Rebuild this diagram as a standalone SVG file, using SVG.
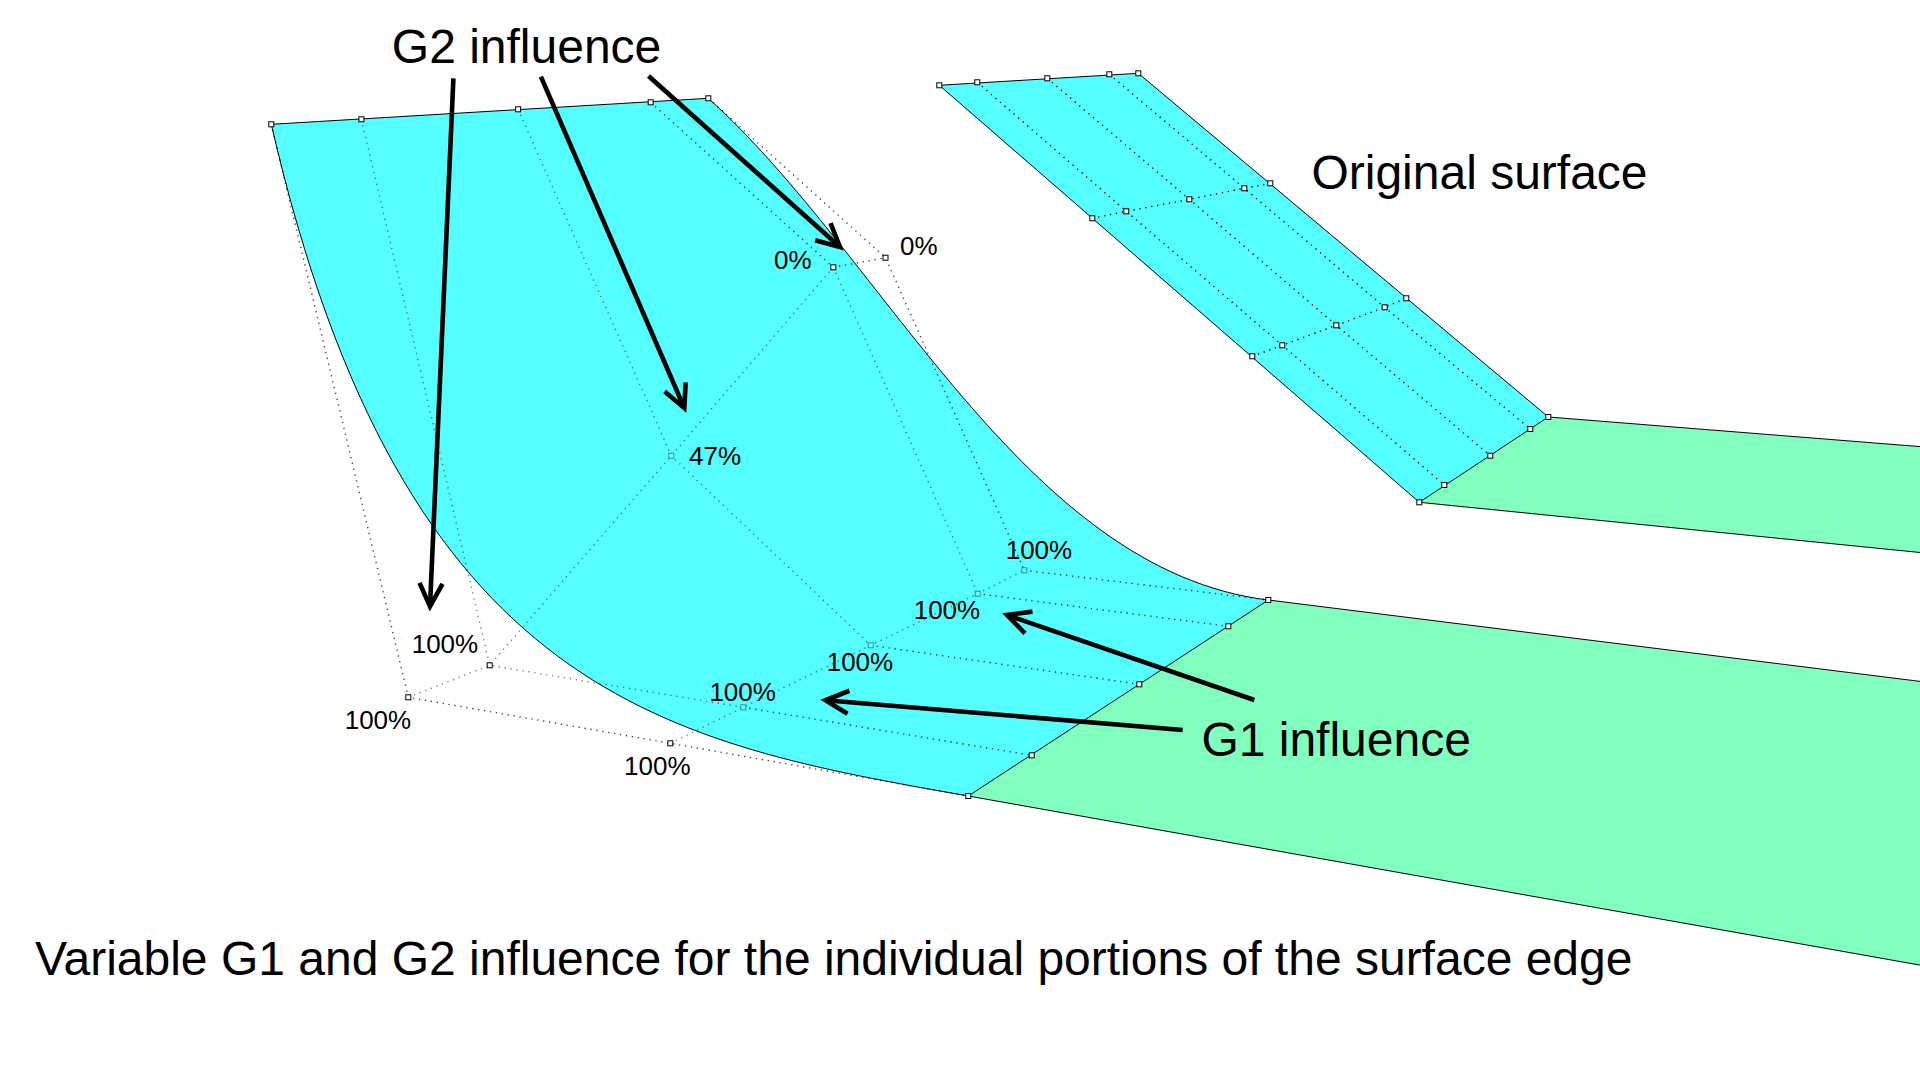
<svg xmlns="http://www.w3.org/2000/svg" width="1920" height="1080" viewBox="0 0 1920 1080">
<style>
text{font-family:"Liberation Sans",Arial,sans-serif;fill:#000}
.big{font-size:48px}
.pct{font-size:26px}
.blue{fill:#55ffff;stroke:#000;stroke-width:1}
.green{fill:#80ffbf;stroke:none}
.edge{fill:none;stroke:#000;stroke-width:1}
.dot{fill:none;stroke:#000;stroke-width:1.4;stroke-dasharray:1.3 4.7}
.soft{stroke-opacity:.5}
.mid{stroke-opacity:.75}
.pt{fill:#fff;stroke:#000;stroke-width:1}
.tp{fill:#7fffff;stroke:#119999;stroke-width:1}
.arrow{fill:none;stroke:#000;stroke-width:4.6;marker-end:url(#head)}
</style>
<defs>
<marker id="head" markerUnits="userSpaceOnUse" viewBox="-30 -16 40 32" markerWidth="40" markerHeight="32" refX="0" refY="0" orient="auto" overflow="visible">
<path d="M-23,-11.5 L0,0 L-23,11.5" fill="none" stroke="#000" stroke-width="4.6" stroke-miterlimit="10"/>
</marker>
<rect id="p" x="-2.5" y="-2.5" width="5" height="5"/>
</defs>
<rect width="1920" height="1080" fill="#fff"/>

<g id="original-surface">
<path class="green" d="M1548.3,417 L1925,447 L1925,553 L1419.3,502.3Z"/>
<path class="edge" d="M1548.3,417 L1925,447 M1419.3,502.3 L1925,553"/>
<path class="blue" d="M939.3,85.3 L1138.3,73.3 L1548.3,417 L1419.3,502.3Z"/>
<path class="dot" d="M977.3,82.3 L1126.3,211.3 L1282.3,345.3 L1444.3,485 M1047.3,78.3 L1189.3,199.3 L1336.3,325.3 L1490.3,455.7 M1109.3,74.3 L1244.3,188.3 L1384.7,307.3 L1530.3,429 M1092.3,218.3 L1126.3,211.3 L1189.3,199.3 L1244.3,188.3 L1270.3,183.3 M1252.3,356.3 L1282.3,345.3 L1336.3,325.3 L1384.7,307.3 L1406.3,298.3"/>
<g class="pt">
<use href="#p" x="939.3" y="85.3"/><use href="#p" x="977.3" y="82.3"/><use href="#p" x="1047.3" y="78.3"/><use href="#p" x="1109.3" y="74.3"/><use href="#p" x="1138.3" y="73.3"/>
<use href="#p" x="1092.3" y="218.3"/><use href="#p" x="1126.3" y="211.3"/><use href="#p" x="1189.3" y="199.3"/><use href="#p" x="1244.3" y="188.3"/><use href="#p" x="1270.3" y="183.3"/>
<use href="#p" x="1252.3" y="356.3"/><use href="#p" x="1282.3" y="345.3"/><use href="#p" x="1336.3" y="325.3"/><use href="#p" x="1384.7" y="307.3"/><use href="#p" x="1406.3" y="298.3"/>
<use href="#p" x="1419.3" y="502.3"/><use href="#p" x="1444.3" y="485"/><use href="#p" x="1490.3" y="455.7"/><use href="#p" x="1530.3" y="429"/><use href="#p" x="1548.3" y="417"/>
</g>
</g>

<g id="blended-surface">
<path class="green" d="M1268.3,600 L1925,682 L1925,966 L968.3,796Z"/>
<path class="edge" d="M1268.3,600 L1925,682 M968.3,796 L1925,966"/>
<path class="blue" d="M271.3,124.3 L708.3,98.3 C885.5,257.7 1024.3,570.3 1268.3,600 L968.3,796 C670.3,743.3 404,700 271.3,124.3Z"/>
<path class="dot mid" d="M271.3,124.3 L408.3,697.3 L670.3,743.3 L968.3,796 M708.3,98.3 L885.5,257.7 L1024.3,570.3"/>
<path class="dot soft" d="M361.4,119.3 L489.7,665.3 L743.3,707.3 M518.1,109.3 L671.3,455.7 L870.7,645.3 M833.3,267.3 L977.7,593.7 M408.3,697.3 L489.7,665.3 L671.3,455.7 L833.3,267.3 M670.3,743.3 L743.3,707.3 L870.7,645.3 L977.7,593.7 L1024.3,570.3"/>
<path class="dot mid" d="M650.7,102.3 L833.3,267.3 L885.5,257.7 M743.3,707.3 L1031.7,755.3 M870.7,645.3 L1139.3,684.3 M977.7,593.7 L1228.3,626.3 M1024.3,570.3 L1268.3,600"/>
<g class="pt">
<use href="#p" x="271.3" y="124.3"/><use href="#p" x="361.4" y="119.3"/><use href="#p" x="518.1" y="109.3"/><use href="#p" x="650.7" y="102.3"/><use href="#p" x="708.3" y="98.3"/>
<use href="#p" x="408.3" y="697.3"/><use href="#p" x="489.7" y="665.3"/><use href="#p" x="833.3" y="267.3"/><use href="#p" x="885.5" y="257.7"/>
<use href="#p" x="670.3" y="743.3"/>
<use href="#p" x="968.3" y="796"/><use href="#p" x="1031.7" y="755.3"/><use href="#p" x="1139.3" y="684.3"/><use href="#p" x="1228.3" y="626.3"/><use href="#p" x="1268.3" y="600"/>
</g>
<g class="tp">
<use href="#p" x="671.3" y="455.7"/><use href="#p" x="743.3" y="707.3"/><use href="#p" x="870.7" y="645.3"/><use href="#p" x="977.7" y="593.7"/><use href="#p" x="1024.3" y="570.3"/>
</g>
</g>

<g id="percent-labels">
<text class="pct" x="774" y="269.3">0%</text>
<text class="pct" x="900" y="255.3">0%</text>
<text class="pct" x="689" y="465">47%</text>
<text class="pct" x="411.7" y="653.3">100%</text>
<text class="pct" x="344.7" y="729.3">100%</text>
<text class="pct" x="624" y="775.3">100%</text>
<text class="pct" x="709.4" y="701.3">100%</text>
<text class="pct" x="1005.7" y="559.3">100%</text>
<text class="pct" x="913.7" y="619.3">100%</text>
<text class="pct" x="826.7" y="671.3">100%</text>
</g>

<g id="connectors">
<line class="arrow" x1="453.4" y1="78.3" x2="430" y2="606.4"/>
<line class="arrow" x1="540.9" y1="76.7" x2="684.3" y2="408"/>
<line class="arrow" x1="648.5" y1="76" x2="840" y2="247"/>
<line class="arrow" x1="1254.3" y1="700" x2="1007" y2="615"/>
<line class="arrow" x1="1182.7" y1="730" x2="825.5" y2="700.3"/>
</g>

<g id="titles">
<text class="big" x="391.8" y="62.6">G2 influence</text>
<text class="big" x="1201.4" y="755.7">G1 influence</text>
<text class="big" x="1311.4" y="189">Original surface</text>
<text class="big" x="35" y="975">Variable G1 and G2 influence for the individual portions of the surface edge</text>
</g>
</svg>
